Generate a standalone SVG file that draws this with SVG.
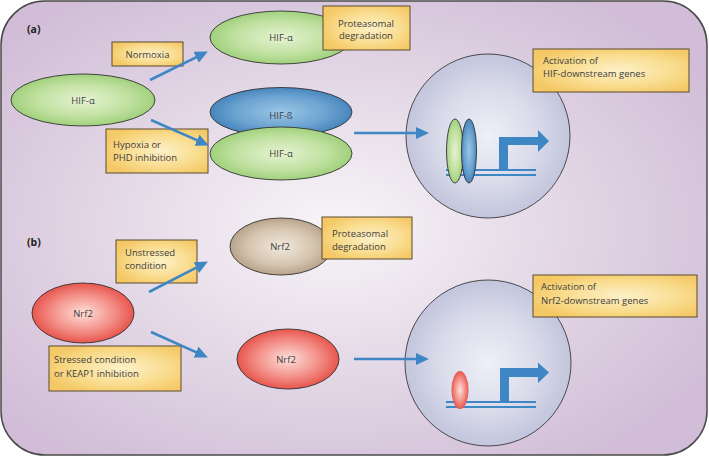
<svg xmlns="http://www.w3.org/2000/svg" width="709" height="457" viewBox="0 0 709 457">
<defs>
<radialGradient id="bg" cx="0.47" cy="0.5" r="0.62">
<stop offset="0" stop-color="#f8f5f8"/>
<stop offset="0.55" stop-color="#e2d6e5"/>
<stop offset="1" stop-color="#d1bdd7"/>
</radialGradient>
<radialGradient id="gGreen" cx="0.5" cy="0.5" r="0.55">
<stop offset="0" stop-color="#e6f3d2"/>
<stop offset="0.6" stop-color="#bfe09f"/>
<stop offset="1" stop-color="#98cc72"/>
</radialGradient>
<radialGradient id="gBlue" cx="0.5" cy="0.5" r="0.55">
<stop offset="0" stop-color="#9cc6e6"/>
<stop offset="0.6" stop-color="#6aa2d0"/>
<stop offset="1" stop-color="#3d7db7"/>
</radialGradient>
<radialGradient id="gRed" cx="0.5" cy="0.5" r="0.55">
<stop offset="0" stop-color="#fde0da"/>
<stop offset="0.55" stop-color="#f39088"/>
<stop offset="1" stop-color="#e4473f"/>
</radialGradient>
<radialGradient id="gBrown" cx="0.5" cy="0.5" r="0.55">
<stop offset="0" stop-color="#f1e9dd"/>
<stop offset="0.6" stop-color="#d4c4ae"/>
<stop offset="1" stop-color="#b19a80"/>
</radialGradient>
<radialGradient id="gBox" cx="0.55" cy="0.5" r="0.6">
<stop offset="0" stop-color="#fdf1c9"/>
<stop offset="0.6" stop-color="#f9dc8e"/>
<stop offset="1" stop-color="#f4c865"/>
</radialGradient>
<radialGradient id="gNuc" cx="0.5" cy="0.5" r="0.5">
<stop offset="0" stop-color="#eeeff7"/>
<stop offset="0.6" stop-color="#d9dbea"/>
<stop offset="1" stop-color="#c2c5dc"/>
</radialGradient>
<marker id="ah" viewBox="0 0 13 12" refX="6" refY="6" markerWidth="13" markerHeight="12" markerUnits="userSpaceOnUse" orient="auto">
<path d="M0,0 L13,6 L0,12 Z" fill="#3f86c4"/>
</marker>
<style>
.t{font-family:"Open Sans","Liberation Sans",sans-serif;font-size:9.5px;fill:#404040}
.c{text-anchor:middle}
.lab{font-family:"Open Sans","Liberation Sans",sans-serif;font-size:10.5px;font-weight:bold;fill:#222}
.box{fill:url(#gBox);stroke:#5a4a2e;stroke-width:1}
.ell{stroke:#333;stroke-width:0.9}
.nuc{fill:url(#gNuc);stroke:#3a3a3a;stroke-width:0.9}
.arr{stroke:#3f86c4;stroke-width:2.6;fill:none;marker-end:url(#ah)}
.dna{stroke:#3f86c4;stroke-width:2.2}
.prom{fill:#3f86c4}
</style>
</defs>

<rect id="cell" x="1" y="1" width="706" height="454" rx="44" ry="44" fill="url(#bg)" stroke="#4a4a4a" stroke-width="1.5"/>

<text class="lab" x="27" y="33">(a)</text>
<text class="lab" x="27" y="246">(b)</text>

<!-- Panel (a) -->
<g id="hif-alpha-left">
<ellipse class="ell" cx="83" cy="100" rx="72" ry="26" fill="url(#gGreen)"/>
<text class="t c" x="83" y="104">HIF-α</text>
</g>
<g id="normoxia">
<rect class="box" x="112" y="42" width="71" height="24"/>
<text class="t c" x="147.5" y="57.5">Normoxia</text>
</g>
<g id="hif-alpha-top">
<ellipse class="ell" cx="281" cy="37.5" rx="71" ry="26.5" fill="url(#gGreen)"/>
<text class="t c" x="281" y="41">HIF-α</text>
</g>
<g id="proteasomal-a">
<rect class="box" x="323" y="6" width="87" height="44"/>
<text class="t c" x="366" y="26.5">Proteasomal</text>
<text class="t c" x="366" y="39">degradation</text>
</g>
<g id="hypoxia">
<rect class="box" x="106" y="129" width="102" height="44"/>
<text class="t" x="113" y="148">Hypoxia or</text>
<text class="t" x="113" y="161">PHD inhibition</text>
</g>
<g id="hif-complex">
<ellipse class="ell" cx="281" cy="112" rx="71" ry="24.5" fill="url(#gBlue)"/>
<text class="t c" x="281" y="119">HIF-ß</text>
<ellipse class="ell" cx="281" cy="153.5" rx="71" ry="26.5" fill="url(#gGreen)"/>
<text class="t c" x="281" y="157">HIF-α</text>
</g>
<g id="nucleus-a">
<circle class="nuc" cx="488" cy="136" r="82"/>
<line class="dna" x1="446" y1="170" x2="536" y2="170"/>
<line class="dna" x1="446" y1="175" x2="536" y2="175"/>
<path class="prom" d="M499,171 L499,137 L538,137 L538,130 L549,141 L538,152 L538,145 L508,145 L508,171 Z"/>
<ellipse class="ell" cx="455" cy="151" rx="8.5" ry="32" fill="url(#gGreen)"/>
<ellipse class="ell" cx="469" cy="151" rx="7.5" ry="32" fill="url(#gBlue)"/>
</g>
<g id="activation-a">
<rect class="box" x="533" y="49" width="156" height="43"/>
<text class="t" x="543" y="64">Activation of</text>
<text class="t" x="543" y="77">HIF-downstream genes</text>
</g>

<!-- Panel (b) -->
<g id="nrf2-left">
<ellipse class="ell" cx="83" cy="313" rx="51" ry="30" fill="url(#gRed)"/>
<text class="t c" x="83" y="317">Nrf2</text>
</g>
<g id="unstressed">
<rect class="box" x="116" y="240" width="81" height="43"/>
<text class="t" x="125" y="256">Unstressed</text>
<text class="t" x="125" y="269">condition</text>
</g>
<g id="nrf2-brown">
<ellipse class="ell" cx="281" cy="246.5" rx="51" ry="28.5" fill="url(#gBrown)"/>
<text class="t c" x="280" y="250">Nrf2</text>
</g>
<g id="proteasomal-b">
<rect class="box" x="322" y="217" width="90" height="42"/>
<text class="t" x="332" y="236.5">Proteasomal</text>
<text class="t" x="332" y="249.5">degradation</text>
</g>
<g id="stressed">
<rect class="box" x="49" y="346" width="132" height="45"/>
<text class="t" x="54" y="363">Stressed condition</text>
<text class="t" x="54" y="377">or KEAP1 inhibition</text>
</g>
<g id="nrf2-right">
<ellipse class="ell" cx="288" cy="359" rx="51" ry="30" fill="url(#gRed)"/>
<text class="t c" x="286" y="363">Nrf2</text>
</g>
<g id="nucleus-b">
<circle class="nuc" cx="488" cy="363" r="83"/>
<line class="dna" x1="446" y1="402" x2="536" y2="402"/>
<line class="dna" x1="446" y1="407" x2="536" y2="407"/>
<path class="prom" d="M500,403 L500,368 L538,368 L538,362.5 L549,372.5 L538,383 L538,377 L509,377 L509,403 Z"/>
<ellipse cx="460" cy="390" rx="8.5" ry="19" fill="url(#gRed)"/>
</g>
<g id="activation-b">
<rect class="box" x="533" y="275" width="164" height="42"/>
<text class="t" x="541" y="290">Activation of</text>
<text class="t" x="541" y="304">Nrf2-downstream genes</text>
</g>

<g id="connectors">
<line class="arr" x1="150" y1="80" x2="201.6" y2="54.6"/>
<line class="arr" x1="151" y1="120" x2="202.5" y2="142.6"/>
<line class="arr" x1="354" y1="133" x2="422" y2="133"/>
<line class="arr" x1="149" y1="292" x2="201.7" y2="264.8"/>
<line class="arr" x1="151" y1="332" x2="201.5" y2="354.6"/>
<line class="arr" x1="354" y1="359" x2="422" y2="359"/>
</g>
</svg>
